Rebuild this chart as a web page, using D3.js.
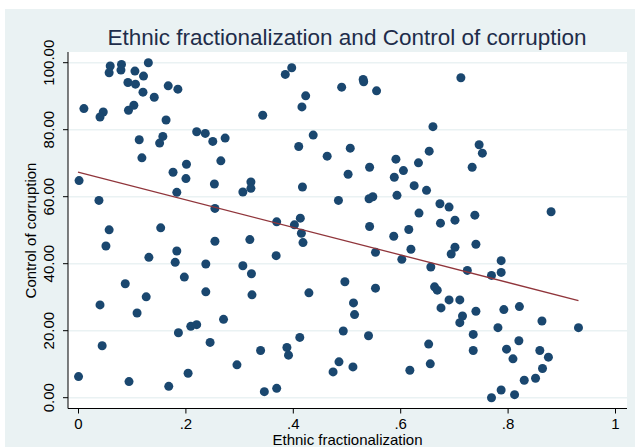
<!DOCTYPE html>
<html><head><meta charset="utf-8">
<script src="https://cdn.jsdelivr.net/npm/d3@7"></script>
<style>body{margin:0;background:#fff}svg{display:block}text{font-family:"Liberation Sans",Arial,Helvetica,sans-serif}</style>
</head><body>
<script>
const title = "Ethnic fractionalization and Control of corruption";
const xLabel = "Ethnic fractionalization";
const yLabel = "Control of corruption";
const xTicks = [0, 0.2, 0.4, 0.6, 0.8, 1];
const xTickLabels = ["0", ".2", ".4", ".6", ".8", "1"];
const yTicks = [0, 20, 40, 60, 80, 100];
const yTickLabels = ["0.00", "20.00", "40.00", "60.00", "80.00", "100.00"];
const ethnicFrac = [
0.060,0.081,0.058,0.080,0.131,0.106,0.122,0.093,0.107,0.168,0.186,0.121,0.142,0.011,0.047,0.041,0.094,0.104,0.164,0.221,
0.237,0.251,0.274,0.114,0.158,0.152,0.119,0.266,0.202,0.177,0.201,0.002,0.254,0.322,0.322,0.307,0.184,0.039,0.255,
0.058,0.154,0.052,0.132,0.184,0.181,0.255,0.320,0.238,0.307,0.323,0.088,0.198,0.127,0.238,0.324,0.041,0.110,0.210,0.221,
0.271,0.187,0.246,0.045,0.340,0.296,0.001,0.095,0.205,0.169,
0.386,0.398,0.491,0.531,0.532,0.556,0.424,0.417,0.344,0.661,0.438,0.411,0.507,0.464,0.592,0.654,0.634,0.543,0.503,0.589,
0.606,0.418,0.626,0.649,0.485,0.542,0.549,0.594,0.674,0.691,0.635,0.370,0.403,0.414,0.543,0.616,0.675,
0.416,0.419,0.588,0.620,0.554,0.603,0.369,0.657,0.497,0.430,0.554,0.664,0.669,0.691,0.513,0.515,0.676,0.494,0.541,0.413,
0.389,0.392,0.653,0.656,0.486,0.475,0.512,0.618,0.347,0.370,
0.713,0.747,0.753,0.734,0.739,0.702,0.881,
0.741,0.702,0.695,0.788,0.788,0.770,0.725,0.711,0.716,0.711,0.741,0.793,0.822,0.864,0.782,0.932,0.736,0.736,0.821,0.798,
0.810,0.860,0.876,0.865,0.831,0.852,0.788,0.813,0.770];
const corruption = [
99.0,99.5,97.0,97.8,100.0,97.5,96.0,94.1,93.6,93.1,92.1,91.2,89.7,86.3,85.3,83.8,85.8,87.3,82.9,79.4,
78.9,76.5,77.5,77.0,78.0,76.0,71.6,70.7,69.7,67.3,65.4,64.8,63.8,64.4,62.5,61.4,61.3,58.9,56.5,
50.1,50.7,45.3,41.9,43.8,40.4,46.7,47.2,39.9,39.4,37.0,34.0,36.0,30.1,31.6,30.7,27.7,25.3,21.3,21.8,
23.4,19.4,16.5,15.5,14.1,9.8,6.3,4.8,7.3,3.4,
96.5,98.5,92.7,95.0,94.3,91.6,90.1,86.8,84.3,80.9,78.4,75.0,74.5,72.1,71.2,73.6,70.1,68.8,66.7,65.8,
67.8,62.9,63.3,61.9,58.9,59.4,60.0,60.4,57.9,56.9,55.1,52.5,51.6,53.6,51.1,50.2,52.1,
49.1,46.3,48.2,44.3,43.4,41.3,42.4,39.0,34.6,31.3,32.7,33.1,32.1,29.2,28.3,24.8,26.8,19.9,18.5,18.0,
15.0,12.7,16.0,10.1,10.7,7.7,9.2,8.2,1.8,2.8,
95.5,75.5,73.0,68.8,54.5,53.0,55.5,
45.8,44.9,42.9,40.9,37.4,36.5,38.0,29.2,24.4,22.4,25.8,26.3,27.2,22.9,20.9,20.9,18.9,14.1,17.0,14.5,
11.6,14.1,12.1,8.7,5.2,5.8,2.3,0.9,0.0];
const fitX = [0, 0.932];
const fitY = [67.3, 29.0];

const W = 635, H = 447;
const svg = d3.select("body").append("svg").attr("width", W).attr("height", H);
svg.append("rect").attr("x", 5).attr("y", 9).attr("width", W - 5).attr("height", H - 9).attr("fill", "#EAF2F3");
const plot = {l: 68, t: 52, r: 627, b: 408.5};
svg.append("rect").attr("x", plot.l).attr("y", plot.t).attr("width", plot.r - plot.l).attr("height", plot.b - plot.t).attr("fill", "#fff");

const x = d3.scaleLinear().domain([0, 1]).range([78, 615]);
const y = d3.scaleLinear().domain([0, 100]).range([397.7, 62.7]);

// grid
svg.append("g").selectAll("line").data(yTicks).join("line")
  .attr("x1", plot.l).attr("x2", plot.r).attr("y1", d => y(d)).attr("y2", d => y(d))
  .attr("stroke", "#EAF2F3").attr("stroke-width", 1.5);

// y axis
const yAxis = d3.axisLeft(y).tickValues(yTicks).tickSize(5).tickFormat((d, i) => yTickLabels[i]);
const gy = svg.append("g").attr("transform", `translate(${plot.l},0)`).call(yAxis);
gy.select(".domain").remove();
gy.append("line").attr("x1", 0).attr("x2", 0).attr("y1", plot.t).attr("y2", plot.b).attr("stroke", "#000");
gy.selectAll(".tick").attr("transform", null);
gy.selectAll(".tick line").attr("stroke", "#000").attr("y1", d => y(d)).attr("y2", d => y(d)).attr("x2", -5);
gy.selectAll(".tick text").attr("font-size", 15).attr("fill", "#000").attr("text-anchor", "middle")
  .attr("x", 0).attr("y", 0).attr("dy", 0)
  .attr("transform", d => `translate(-14,${y(d)}) rotate(-90)`);

// x axis
const xAxis = d3.axisBottom(x).tickValues(xTicks).tickSize(5).tickFormat((d, i) => xTickLabels[i]);
const gx = svg.append("g").attr("transform", `translate(0,${plot.b})`).call(xAxis);
gx.select(".domain").remove();
gx.append("line").attr("x1", plot.l).attr("x2", plot.r).attr("y1", 0).attr("y2", 0).attr("stroke", "#000");
gx.selectAll(".tick line").attr("stroke", "#000");
gx.selectAll(".tick text").attr("font-size", 15).attr("fill", "#000").attr("y", 20).attr("dy", 0);

// points
svg.append("g").selectAll("circle").data(ethnicFrac.map((v, i) => [v, corruption[i]])).join("circle")
  .attr("cx", d => x(d[0])).attr("cy", d => y(d[1])).attr("r", 4.5).attr("fill", "#1A476F");

// fit line
svg.append("line").attr("x1", x(fitX[0])).attr("y1", y(fitY[0])).attr("x2", x(fitX[1])).attr("y2", y(fitY[1]))
  .attr("stroke", "#90353B").attr("stroke-width", 1.3);

// labels
svg.append("text").attr("x", 347).attr("y", 44.5).attr("text-anchor", "middle").attr("font-size", 22.5)
  .attr("fill", "#1E2D4A").text(title);
svg.append("text").attr("transform", "translate(36,230.5) rotate(-90)").attr("text-anchor", "middle")
  .attr("font-size", 15).attr("fill", "#000").text(yLabel);
svg.append("text").attr("x", 347.5).attr("y", 445.3).attr("text-anchor", "middle")
  .attr("font-size", 15).attr("fill", "#000").text(xLabel);
</script>
</body></html>
